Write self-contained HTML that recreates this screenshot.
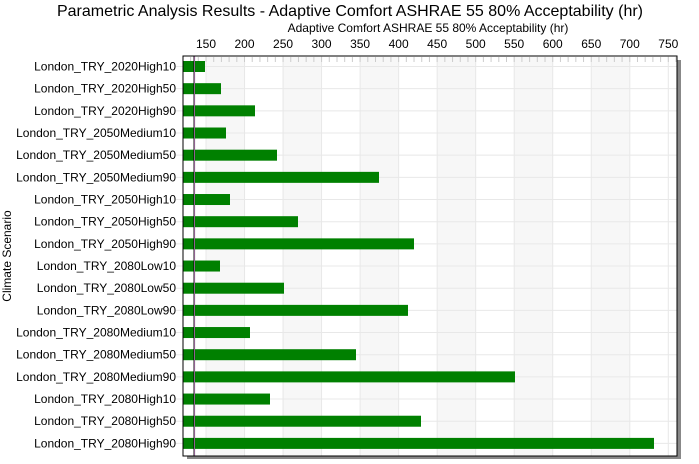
<!DOCTYPE html>
<html><head><meta charset="utf-8"><style>
body{margin:0;background:#fff;font-family:"Liberation Sans",sans-serif;}
</style></head><body>
<svg width="699" height="459" xmlns="http://www.w3.org/2000/svg" font-family="Liberation Sans, sans-serif">
<text x="350" y="16" font-size="16" text-anchor="middle" fill="#000">Parametric Analysis Results -  Adaptive Comfort ASHRAE 55 80% Acceptability (hr)</text>
<text x="428" y="32" font-size="12" text-anchor="middle">Adaptive Comfort ASHRAE 55 80% Acceptability (hr)</text>
<g id="ticks" font-size="12" text-anchor="middle"></g>
<rect x="187" y="60" width="494" height="400" fill="#888"/>
<rect x="183" y="56" width="494" height="400" fill="#fff"/>
<g id="bands"></g>
<g id="grid" stroke="#e8e8e8" stroke-width="1"></g>
<g id="bars" fill="#008000"></g>
<line x1="194.3" y1="56" x2="194.3" y2="456" stroke="#000" stroke-width="1.5"/>
<line x1="194.5" y1="56" x2="194.5" y2="456" stroke="#f0a0f0" stroke-width="0.6"/>
<rect x="183" y="56" width="494" height="400" fill="none" stroke="#000" stroke-width="1"/>
<g id="labels" font-size="12" text-anchor="end"></g>
<text transform="translate(11,256) rotate(-90)" font-size="12" text-anchor="middle">Climate Scenario</text>
</svg>
<script>
const ns="http://www.w3.org/2000/svg";
function el(t,a,p,txt){const e=document.createElementNS(ns,t);for(const k in a)e.setAttribute(k,a[k]);if(txt)e.textContent=txt;document.getElementById(p).appendChild(e);}
const px=v=>206+(v-150)*0.7705;
for(let v=150;v<=750;v+=50){el('text',{x:px(v),y:48},'ticks',String(v));}
for(let v=150;v<750;v+=100){el('rect',{x:px(v),y:57,width:px(v+50)-px(v),height:398,fill:'#f7f7f7'},'bands');}
for(let v=150;v<=750;v+=50){el('line',{x1:px(v),y1:56,x2:px(v),y2:456},'grid');}
for(let v=130;v<=760;v+=10){el('line',{x1:px(v),y1:57,x2:px(v),y2:62,stroke:'#ccc'},'grid');}
const names=["London_TRY_2020High10","London_TRY_2020High50","London_TRY_2020High90","London_TRY_2050Medium10","London_TRY_2050Medium50","London_TRY_2050Medium90","London_TRY_2050High10","London_TRY_2050High50","London_TRY_2050High90","London_TRY_2080Low10","London_TRY_2080Low50","London_TRY_2080Low90","London_TRY_2080Medium10","London_TRY_2080Medium50","London_TRY_2080Medium90","London_TRY_2080High10","London_TRY_2080High50","London_TRY_2080High90"];
const ends=[205,221,255,226,277,379,230,298,414,220,284,408,250,356,515,270,421,654];
names.forEach((n,i)=>{const c=66.5+i*22.17;
el('line',{x1:176,y1:c,x2:677,y2:c},'grid');
el('rect',{x:183,y:c-5.5,width:ends[i]-183,height:11},'bars');
el('text',{x:176,y:c+4},'labels',n);});
</script>
</body></html>
